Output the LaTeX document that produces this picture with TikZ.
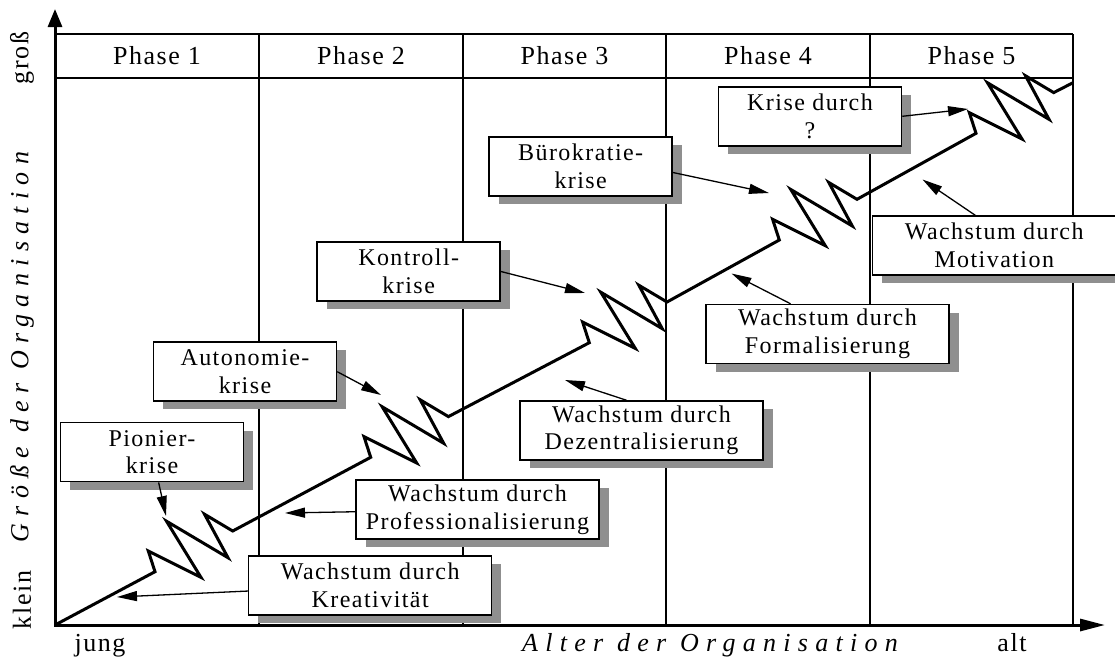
\documentclass[tikz,border=0pt]{standalone}
\usepackage{fontspec}
\setmainfont{Liberation Serif}[LetterSpace=6]
\newfontfamily\phasefont{Liberation Serif}[LetterSpace=6]
\newfontfamily\endfont{Liberation Serif}[LetterSpace=6]
\newfontfamily\axisfont{Liberation Serif}[LetterSpace=28]
\usetikzlibrary{arrows.meta,shadows,calc}
\definecolor{shadowgray}{gray}{0.56}
\tikzset{
  txt/.style={font=\fontsize{24}{27.5}\selectfont, inner sep=0pt},
  phase/.style={font=\phasefont\fontsize{26}{28}\selectfont, inner sep=0pt},
  endlabel/.style={font=\endfont\fontsize{26}{28}\selectfont, inner sep=0pt},
  axlabel/.style={font=\axisfont\itshape\fontsize{26}{28}\selectfont, inner sep=0pt},
  gridline/.style={line width=1.5pt},
  zigline/.style={line width=3pt, line join=miter},
  axisline/.style={line width=3pt, line join=miter},
  box/.style={txt, draw, line width=1.5pt, fill=white, align=center,
    minimum height=59pt,
    drop shadow={shadow xshift=9.5pt, shadow yshift=-8pt, fill=shadowgray, opacity=1}},
  krise/.style={box, minimum width=183pt},
  wachs/.style={box, minimum width=243pt},
  arr/.style={line width=1.3pt, -{Triangle[length=20pt,width=10pt]}},
}
\begin{document}
\begin{tikzpicture}[x=1pt,y=-1pt]
\useasboundingbox (0,0) rectangle (1115,657);
% grid
\draw[gridline] (55,34) -- (1073,34);
\draw[gridline] (55,78) -- (1073,78);
\foreach \xx in {259,463,666,870,1073}
  \draw[gridline] (\xx,34) -- (\xx,625);
% phase labels
\node[phase] (ph1) at (157,56) {Phase 1};
\node[phase] (ph2) at (361,56) {Phase 2};
\node[phase] (ph3) at (564.5,56) {Phase 3};
\node[phase] (ph4) at (768,56) {Phase 4};
\node[phase] (ph5) at (971.5,56) {Phase 5};
% growth curve
\coordinate (O) at (55,625);
\draw[zigline] (O) -- (155,571.7)
  -- ++(-6.7,-20.7) -- ++(52.7,26.4) -- ++(-34.5,-56.2) -- ++(61.5,36.5) -- ++(-23.5,-43.5) -- ++(28.2,16.8)
  -- (370.7,457.3)
  -- ++(-6.7,-20.7) -- ++(52.7,26.4) -- ++(-34.5,-56.2) -- ++(61.5,36.5) -- ++(-23.5,-43.5) -- ++(28.2,16.8)
  -- (589.3,342.7)
  -- ++(-6.7,-20.7) -- ++(52.7,26.4) -- ++(-34.5,-56.2) -- ++(61.5,36.5) -- ++(-23.5,-43.5) -- ++(28.2,16.8)
  -- (779.3,240)
  -- ++(-6.7,-20.7) -- ++(52.7,26.4) -- ++(-34.5,-56.2) -- ++(61.5,36.5) -- ++(-23.5,-43.5) -- ++(28.2,16.8)
  -- (976,133.3)
  -- ++(-6.7,-20.7) -- ++(52.7,26.4) -- ++(-34.5,-56.2) -- ++(61.5,36.5) -- ++(-23.5,-43.5) -- ++(28.2,16.8)
  -- (1073,82.7);
% boxes
\node[krise] (pion) at (152,452.2) {Pionier-\\krise};
\node[wachs] (krea) at (370.2,585.5) {Wachstum durch\\Kreativität};
\node[wachs] (prof) at (477.5,509.5) {Wachstum durch\\Professionalisierung};
\node[krise] (auto) at (245,371.7) {Autonomie-\\krise};
\node[krise] (kont) at (408.7,271.5) {Kontroll-\\krise};
\node[wachs] (dez) at (641.5,430.5) {Wachstum durch\\Dezentralisierung};
\node[krise] (buro) at (580.7,166.5) {Bürokratie-\\krise};
\node[wachs] (form) at (827.5,334) {Wachstum durch\\Formalisierung};
\node[krise] (krq) at (810,116.3) {Krise durch\\?};
\node[wachs] (moti) at (994.2,245.5) {Wachstum durch\\Motivation};
% arrow targets
\coordinate (tpion) at (166,516);
\coordinate (tkrea) at (117,597);
\coordinate (tprof) at (285,513);
\coordinate (tauto) at (381,395);
\coordinate (tkont) at (585,293);
\coordinate (tdez) at (565,380);
\coordinate (tburo) at (769,193);
\coordinate (tform) at (731.5,273.5);
\coordinate (tkrq) at (968,109);
\coordinate (tmoti) at (922.5,179.5);
\draw[arr] (pion) -- (tpion);
\draw[arr] (krea) -- (tkrea);
\draw[arr] (prof) -- (tprof);
\draw[arr] (auto.east) -- (tauto);
\draw[arr] (kont.east) -- (tkont);
\draw[arr] ([xshift=-15pt]dez.north) -- (tdez);
\draw[arr] ([yshift=-6pt]buro.east) -- (tburo);
\draw[arr] ([xshift=-37pt]form.north) -- (tform);
\draw[arr] (krq.east) -- (tkrq);
\draw[arr] ([xshift=-19pt]moti.north) -- (tmoti);
% axes
\draw[axisline, {Triangle[length=18pt,width=14pt]}-{Triangle[length=25pt,width=12pt]}]
  (55,9) -- (O) -- (1105,625);
% axis labels
\node[endlabel, rotate=90] (gross) at (22,58) {groß};
\node[endlabel, rotate=90] (klein) at (22,600) {klein};
\node[axlabel, rotate=90] (ylab) at (22,347) {Größe der Organisation};
\node[endlabel, anchor=base] (jung) at (100,651) {jung};
\node[endlabel, anchor=base] (alt) at (1012,651) {alt};
\node[axlabel, anchor=base] (xlab) at (710,651) {Alter der Organisation};
\end{tikzpicture}
\end{document}
